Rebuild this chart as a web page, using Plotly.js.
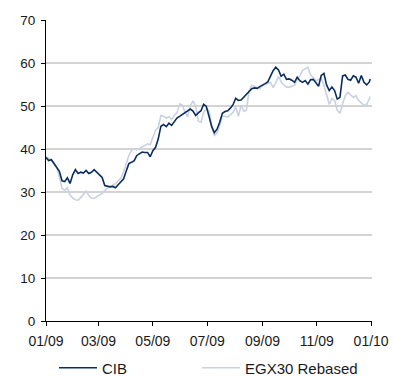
<!DOCTYPE html>
<html>
<head>
<meta charset="utf-8">
<script src="https://cdn.plot.ly/plotly-3.0.1.min.js"></script>
<style>
  html, body { margin: 0; padding: 0; background: #ffffff; }
  #chart { width: 393px; height: 376px; }
</style>
</head>
<body>
<div id="chart"></div>
<script>
// Observation dates (every third day through 2009)
const dates = [
  '2009-01-01','2009-01-04','2009-01-07','2009-01-10','2009-01-13','2009-01-16','2009-01-19','2009-01-22','2009-01-25','2009-01-28','2009-01-31',
  '2009-02-03','2009-02-06','2009-02-09','2009-02-12','2009-02-15','2009-02-18','2009-02-21','2009-02-24','2009-02-27',
  '2009-03-02','2009-03-05','2009-03-08','2009-03-11','2009-03-14','2009-03-17','2009-03-20','2009-03-23','2009-03-26','2009-03-29',
  '2009-04-01','2009-04-04','2009-04-07','2009-04-10','2009-04-13','2009-04-16','2009-04-19','2009-04-22','2009-04-25','2009-04-28',
  '2009-05-01','2009-05-04','2009-05-07','2009-05-10','2009-05-13','2009-05-16','2009-05-19','2009-05-22','2009-05-25','2009-05-28','2009-05-31',
  '2009-06-03','2009-06-06','2009-06-09','2009-06-12','2009-06-15','2009-06-18','2009-06-21','2009-06-24','2009-06-27','2009-06-30',
  '2009-07-03','2009-07-06','2009-07-09','2009-07-12','2009-07-15','2009-07-18','2009-07-21','2009-07-24','2009-07-27','2009-07-30',
  '2009-08-02','2009-08-05','2009-08-08','2009-08-11','2009-08-14','2009-08-17','2009-08-20','2009-08-23','2009-08-26','2009-08-29',
  '2009-09-01','2009-09-04','2009-09-07','2009-09-10','2009-09-13','2009-09-16','2009-09-19','2009-09-22','2009-09-25','2009-09-28',
  '2009-10-01','2009-10-04','2009-10-07','2009-10-10','2009-10-13','2009-10-16','2009-10-19','2009-10-22','2009-10-25','2009-10-28','2009-10-31',
  '2009-11-03','2009-11-06','2009-11-09','2009-11-12','2009-11-15','2009-11-18','2009-11-21','2009-11-24','2009-11-27','2009-11-30',
  '2009-12-03','2009-12-06','2009-12-09','2009-12-12','2009-12-15','2009-12-18','2009-12-21','2009-12-24','2009-12-27','2009-12-30','2009-12-31'
];

// CIB share price
const cib = [
  38.0,37.3,37.5,36.6,35.4,34.8,32.6,32.4,33.3,32.0,34.0,
  35.2,34.3,34.6,34.4,35.0,34.3,34.6,35.2,34.6,
  33.9,33.4,31.5,31.4,31.2,31.3,31.0,31.7,32.4,33.0,
  34.8,36.6,36.9,37.3,38.5,39.0,39.3,39.2,39.2,38.2,
  39.6,40.4,42.3,45.3,45.7,45.2,46.0,45.5,46.5,47.2,47.6,
  48.0,48.4,48.8,49.3,48.8,47.8,48.4,48.9,50.4,49.9,
  47.6,45.2,43.8,44.6,46.2,48.3,48.7,48.9,49.5,50.3,
  51.8,51.3,51.4,52.1,52.8,53.4,54.0,54.2,54.1,54.5,
  54.8,55.2,55.6,56.8,58.2,59.0,58.4,56.9,57.4,56.2,
  56.3,56.0,55.5,56.7,55.9,55.5,55.9,55.1,56.1,56.2,55.4,
  54.6,57.1,57.6,54.9,53.6,54.4,53.6,51.6,52.0,57.0,
  57.2,56.2,56.0,57.0,56.7,55.3,57.1,55.5,54.9,55.6,56.3
];

// EGX30 index rebased to the CIB price
const egx30 = [
  38.3,37.8,37.6,36.8,35.8,33.5,30.8,30.4,31.0,29.3,28.6,
  28.2,28.1,28.7,29.5,30.2,29.2,28.6,28.5,29.0,
  29.3,29.6,30.4,30.9,31.2,31.5,31.9,32.6,33.2,34.6,
  36.6,38.5,39.7,40.0,39.8,40.2,40.5,40.8,41.2,41.0,
  42.5,44.4,45.0,47.8,47.6,47.2,47.5,46.9,47.8,48.4,50.5,
  50.2,48.6,47.5,50.0,51.2,50.0,46.5,46.2,48.5,49.4,
  48.9,45.6,43.0,43.8,45.4,47.6,47.6,47.4,47.9,48.5,
  49.8,47.6,50.1,48.8,49.0,53.5,54.8,54.6,54.3,54.0,
  54.7,55.0,55.2,55.5,54.3,55.4,56.9,55.6,54.9,54.4,
  54.4,54.6,54.8,56.2,57.0,58.3,58.6,59.0,57.2,56.7,55.8,
  56.2,56.5,54.8,52.4,50.4,51.7,51.3,49.0,48.3,50.5,
  52.4,53.2,52.5,52.0,52.4,51.3,50.7,50.2,50.3,51.5,52.2
];

// Axis ticks
const xTickDates = ['2009-01-01','2009-03-01','2009-05-01','2009-07-01','2009-09-01','2009-11-01','2010-01-01'];
const xTickLabels = ['01/09','03/09','05/09','07/09','09/09','11/09','01/10'];
const yTickValues = [0,10,20,30,40,50,60,70];

const FONT = 'Arial, "Liberation Sans", sans-serif';

// index drawn first so the share price sits on top
const traces = [
  {
    x: dates, y: egx30, name: 'EGX30 Rebased', type: 'scatter', mode: 'lines',
    line: { color: '#c9d1e2', width: 1.6 }, legend: 'legend2'
  },
  {
    x: dates, y: cib, name: 'CIB', type: 'scatter', mode: 'lines',
    line: { color: '#0a2d5e', width: 1.6 }, legend: 'legend'
  }
];

// one legend box per series, side by side under the axis
function legendBox(left) {
  return {
    orientation: 'h',
    xref: 'container', yref: 'container',
    x: left / 393, xanchor: 'left', y: 8 / 376, yanchor: 'middle',
    font: { family: FONT, size: 15, color: '#1a1a1a' },
    itemwidth: 38,
    bgcolor: 'rgba(0,0,0,0)', borderwidth: 0
  };
}

const layout = {
  width: 393, height: 376,
  margin: { l: 46, r: 21, t: 20, b: 55, pad: 0, autoexpand: false },
  paper_bgcolor: '#ffffff', plot_bgcolor: '#ffffff',
  font: { family: FONT, size: 14, color: '#1a1a1a' },
  showlegend: true,
  legend: legendBox(54),
  legend2: legendBox(197),
  xaxis: {
    type: 'date', range: ['2009-01-01', '2010-01-02'],
    tickmode: 'array', tickvals: xTickDates, ticktext: xTickLabels,
    showgrid: false, zeroline: false,
    showline: true, linecolor: '#000000', linewidth: 1,
    ticks: 'outside', ticklen: 4, tickcolor: '#000000', tickwidth: 1,
    ticklabelstandoff: 3,
    tickfont: { family: FONT, size: 14, color: '#1a1a1a' },
    fixedrange: true
  },
  yaxis: {
    range: [0, 70], tickmode: 'array', tickvals: yTickValues,
    showgrid: true, gridcolor: '#d3d3d3', gridwidth: 1.3,
    zeroline: false,
    showline: true, linecolor: '#000000', linewidth: 1,
    ticks: 'outside', ticklen: 4, tickcolor: '#000000', tickwidth: 1,
    ticklabelstandoff: 3,
    tickfont: { family: FONT, size: 13.5, color: '#1a1a1a' },
    fixedrange: true
  }
};

Plotly.newPlot('chart', traces, layout, { displayModeBar: false, staticPlot: true });
</script>
</body>
</html>
